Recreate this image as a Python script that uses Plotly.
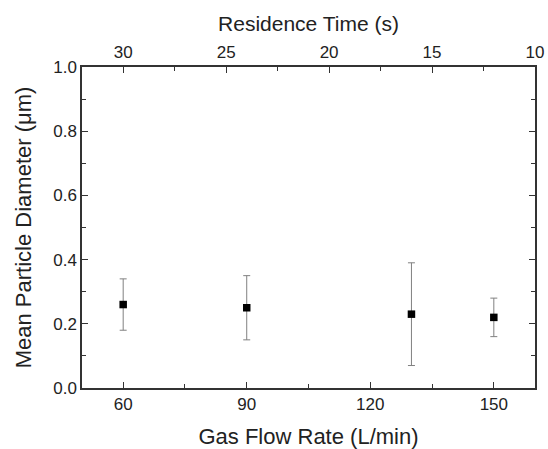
import plotly.graph_objects as go

flow_rate = [60, 90, 130, 150]
diameter = [0.26, 0.25, 0.23, 0.22]
err_plus = [0.08, 0.10, 0.16, 0.06]
err_minus = [0.08, 0.10, 0.16, 0.06]
x_ticks = [60, 90, 120, 150]
top_ticks = [30, 25, 20, 15, 10]
y_ticks = [0.0, 0.2, 0.4, 0.6, 0.8, 1.0]

font_family = "Liberation Sans, Arial, sans-serif"

fig = go.Figure()
fig.add_trace(go.Scatter(
    x=flow_rate, y=diameter, mode="markers",
    marker=dict(symbol="square", size=7.5, color="black"),
    error_y=dict(type="data", symmetric=False, array=err_plus, arrayminus=err_minus,
                 color="#808080", thickness=1, width=3.5),
    showlegend=False,
))
fig.add_trace(go.Scatter(x=[30, 10], y=[None, None], xaxis="x2", mode="markers",
                         showlegend=False, hoverinfo="skip"))

axis_common = dict(showline=True, linecolor="#333333", linewidth=1.5, ticks="inside",
                   tickcolor="#333333", ticklen=6, tickwidth=1.2, showgrid=False, zeroline=False,
                   automargin=False,
                   tickfont=dict(family=font_family, size=17, color="#222222"))

fig.update_layout(
    width=548, height=449,
    margin=dict(l=82, r=13, t=67, b=61),
    paper_bgcolor="white", plot_bgcolor="white",
    font=dict(family=font_family, color="#222222"),
    xaxis=dict(range=[50, 160], tickvals=x_ticks, ticktext=[str(v) for v in x_ticks],
               title=dict(text="Gas Flow Rate (L/min)", font=dict(size=22), standoff=16),
               minor=dict(ticks="inside", tickvals=[75, 105, 135], ticklen=4, tickcolor="#333333"),
               **axis_common),
    xaxis2=dict(range=[32, 10], overlaying="x", side="top", tickvals=top_ticks,
                ticktext=[str(v) for v in top_ticks],
                title=dict(text="Residence Time (s)", font=dict(size=21), standoff=6),
                minor=dict(ticks="inside", tickvals=[27.5, 22.5, 17.5, 12.5], ticklen=4, tickcolor="#333333"),
                **axis_common),
    yaxis=dict(range=[0, 1.0], tickvals=y_ticks, ticktext=[f"{v:.1f}" for v in y_ticks],
               mirror="ticks",
               title=dict(text="Mean Particle Diameter (\u03bcm)", font=dict(size=22), standoff=16),
               minor=dict(ticks="inside", tickvals=[0.1, 0.3, 0.5, 0.7, 0.9], ticklen=4, tickcolor="#333333"),
               **axis_common),
)

fig.write_html("out.html", config={"displayModeBar": False},
               post_script="document.body.style.margin='0';document.body.style.overflow='hidden';")
